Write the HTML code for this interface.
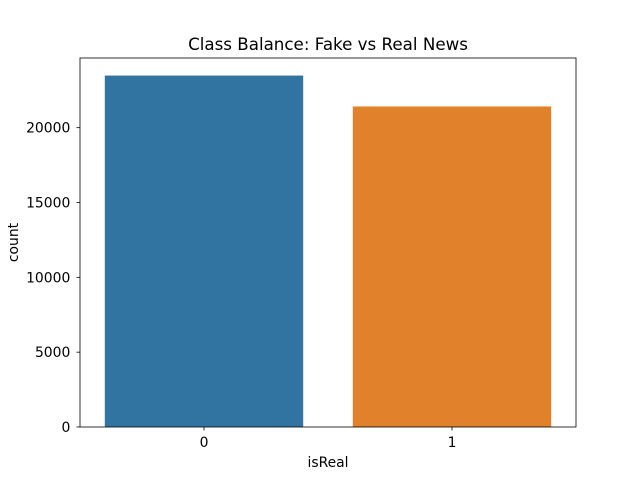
<!DOCTYPE html>
<html><head><meta charset="utf-8"><style>
body{margin:0;background:#fff;}
svg text{font-family:"DejaVu Sans","Liberation Sans",sans-serif;fill:#000;}
</style></head><body>
<svg id="chart" width="640" height="480" viewBox="0 0 640 480">
<rect width="640" height="480" fill="#fff"/>
<text x="328" y="50" font-size="16.7" text-anchor="middle">Class Balance: Fake vs Real News</text>
<g id="bars"></g>
<g id="axes"></g>
<text x="328" y="467" font-size="13.9" text-anchor="middle">isReal</text>
<text transform="translate(18,242.5) rotate(-90)" font-size="13.9" text-anchor="middle">count</text>
</svg>
<script>
const categories = ["0","1"];
const counts = [23481, 21417];
const colors = ["#3274a1","#e1812c"];
const yTicks = [0,5000,10000,15000,20000];

const L=80,R=576,T=58,B=427;
const yMax=23481*1.05;
const xs=v=>L+(v+0.5)/2*(R-L);
const ys=v=>B-v/yMax*(B-T);
const NS="http://www.w3.org/2000/svg";
const bars=document.getElementById('bars');
const axes=document.getElementById('axes');
function mk(tag,attrs,parent){const e=document.createElementNS(NS,tag);for(const k in attrs)e.setAttribute(k,attrs[k]);parent.appendChild(e);return e;}

categories.forEach((c,i)=>{
  const r=mk('rect',{x:xs(i-0.4),y:ys(counts[i]),width:xs(i+0.4)-xs(i-0.4),height:B-ys(counts[i]),fill:colors[i]},bars);
  
  
  const t=mk('line',{x1:xs(i),x2:xs(i),y1:B,y2:B+3.5,stroke:'#000','stroke-width':0.8},axes);
  
  
  const l=mk('text',{x:xs(i),y:B+20,'font-size':13.9,'text-anchor':'middle'},axes);
  l.textContent=c;
  
  
});
yTicks.forEach(v=>{
  const t=mk('line',{x1:L-3.5,x2:L,y1:ys(v),y2:ys(v),stroke:'#000','stroke-width':0.8},axes);
  
  
  const l=mk('text',{x:L-9.7,y:ys(v)+5,'font-size':13.9,'text-anchor':'end'},axes);
  l.textContent=v;
  
  
});
const f=mk('rect',{x:L,y:T,width:R-L,height:B-T,fill:'none',stroke:'#000','stroke-width':0.8},axes);


</script>
</body></html>
